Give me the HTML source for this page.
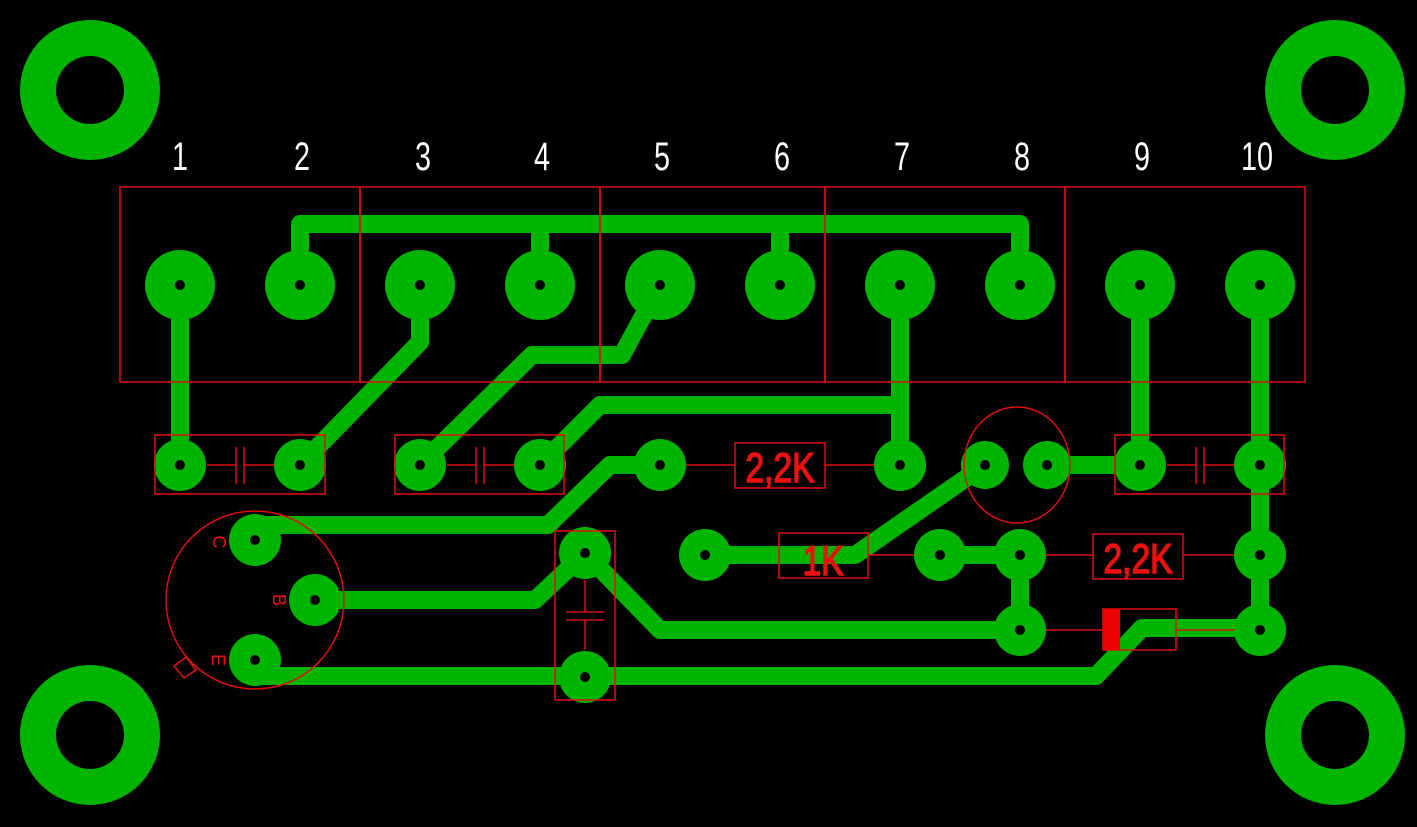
<!DOCTYPE html>
<html><head><meta charset="utf-8"><style>html,body{margin:0;padding:0;background:#000}svg{display:block}</style></head>
<body>
<svg width="1417" height="827" viewBox="0 0 1417 827" xmlns="http://www.w3.org/2000/svg">
<rect width="1417" height="827" fill="#000"/>
<g fill="#00b400">
<circle cx="90" cy="90" r="70"/><circle cx="1335" cy="90" r="70"/><circle cx="90" cy="735" r="70"/><circle cx="1335" cy="735" r="70"/>
</g>
<g fill="#000"><circle cx="90" cy="90" r="34"/><circle cx="1335" cy="90" r="34"/><circle cx="90" cy="735" r="34"/><circle cx="1335" cy="735" r="34"/></g>
<g fill="#fff" font-family="Liberation Sans, sans-serif" font-size="40" text-anchor="middle">
<text transform="translate(180 170) scale(0.72 1)">1</text><text transform="translate(302 170) scale(0.72 1)">2</text><text transform="translate(423 170) scale(0.72 1)">3</text><text transform="translate(542 170) scale(0.72 1)">4</text><text transform="translate(662 170) scale(0.72 1)">5</text><text transform="translate(782 170) scale(0.72 1)">6</text><text transform="translate(902 170) scale(0.72 1)">7</text><text transform="translate(1022 170) scale(0.72 1)">8</text><text transform="translate(1142 170) scale(0.72 1)">9</text><text transform="translate(1257 170) scale(0.72 1)">10</text>
</g>
<g fill="none" stroke="#00b400" stroke-width="18" stroke-linejoin="round">
<polyline points="300,285 300,224 1020,224 1020,285"/>
<line x1="540" y1="224" x2="540" y2="285"/><line x1="780" y1="224" x2="780" y2="285"/>
<line x1="180" y1="285" x2="180" y2="465"/>
<polyline points="420,285 420,342 300,465"/>
<polyline points="660,285 622,355 532,355 420,465"/>
<polyline points="900,285 900,465"/>
<polyline points="900,405 600,405 540,465"/>
<polyline points="660,465 610,465 548,525 255,525"/>
<polyline points="315,600 535,600 585,553"/>
<polyline points="255,660 255,676 1096,676 1142,628 1260,628"/>
<polyline points="585,553 660,630 1020,630"/>
<polyline points="705,555 855,555 985,465"/>
<line x1="1047" y1="465" x2="1140" y2="465"/>
<line x1="1140" y1="285" x2="1140" y2="465"/>
<line x1="1260" y1="285" x2="1260" y2="630"/>
<line x1="940" y1="555" x2="1020" y2="555"/>
<line x1="1020" y1="555" x2="1020" y2="630"/>
</g>
<g fill="#00b400">
<circle cx="180" cy="285" r="35"/><circle cx="300" cy="285" r="35"/><circle cx="420" cy="285" r="35"/><circle cx="540" cy="285" r="35"/><circle cx="660" cy="285" r="35"/><circle cx="780" cy="285" r="35"/><circle cx="900" cy="285" r="35"/><circle cx="1020" cy="285" r="35"/><circle cx="1140" cy="285" r="35"/><circle cx="1260" cy="285" r="35"/>
<circle cx="180" cy="465" r="26"/><circle cx="300" cy="465" r="26"/><circle cx="420" cy="465" r="26"/><circle cx="540" cy="465" r="26"/><circle cx="660" cy="465" r="26"/><circle cx="900" cy="465" r="26"/><circle cx="985" cy="465" r="24"/><circle cx="1047" cy="465" r="24"/><circle cx="1140" cy="465" r="26"/><circle cx="1260" cy="465" r="26"/>
<circle cx="255" cy="540" r="26"/><circle cx="315" cy="600" r="26"/><circle cx="255" cy="660" r="26"/>
<circle cx="585" cy="553" r="26"/><circle cx="585" cy="677" r="26"/>
<circle cx="705" cy="555" r="26"/><circle cx="940" cy="555" r="26"/><circle cx="1020" cy="555" r="26"/><circle cx="1260" cy="555" r="26"/>
<circle cx="1020" cy="630" r="26"/><circle cx="1260" cy="630" r="26"/>
</g>
<g fill="#000">
<circle cx="180" cy="285" r="5"/><circle cx="300" cy="285" r="5"/><circle cx="420" cy="285" r="5"/><circle cx="540" cy="285" r="5"/><circle cx="660" cy="285" r="5"/><circle cx="780" cy="285" r="5"/><circle cx="900" cy="285" r="5"/><circle cx="1020" cy="285" r="5"/><circle cx="1140" cy="285" r="5"/><circle cx="1260" cy="285" r="5"/>
<circle cx="180" cy="465" r="5"/><circle cx="300" cy="465" r="5"/><circle cx="420" cy="465" r="5"/><circle cx="540" cy="465" r="5"/><circle cx="660" cy="465" r="5"/><circle cx="900" cy="465" r="5"/><circle cx="985" cy="465" r="5"/><circle cx="1047" cy="465" r="5"/><circle cx="1140" cy="465" r="5"/><circle cx="1260" cy="465" r="5"/>
<circle cx="255" cy="540" r="5"/><circle cx="315" cy="600" r="5"/><circle cx="255" cy="660" r="5"/>
<circle cx="585" cy="553" r="5"/><circle cx="585" cy="677" r="5"/>
<circle cx="705" cy="555" r="5"/><circle cx="940" cy="555" r="5"/><circle cx="1020" cy="555" r="5"/><circle cx="1260" cy="555" r="5"/>
<circle cx="1020" cy="630" r="5"/><circle cx="1260" cy="630" r="5"/>
</g>
<g fill="none" stroke="#dd1010" stroke-width="1.5">
<rect x="120" y="187" width="240" height="195"/><rect x="360" y="187" width="240" height="195"/><rect x="600" y="187" width="225" height="195"/><rect x="825" y="187" width="240" height="195"/><rect x="1065" y="187" width="240" height="195"/>
<rect x="155" y="435" width="170" height="59"/><rect x="395" y="435" width="169" height="59"/><rect x="1115" y="435" width="169" height="59"/>
<line x1="207" y1="465" x2="236" y2="465"/><line x1="244" y1="465" x2="274" y2="465"/><line x1="236" y1="447" x2="236" y2="484"/><line x1="244" y1="447" x2="244" y2="484"/>
<line x1="447" y1="465" x2="476" y2="465"/><line x1="484" y1="465" x2="514" y2="465"/><line x1="476" y1="447" x2="476" y2="484"/><line x1="484" y1="447" x2="484" y2="484"/>
<line x1="1167" y1="465" x2="1196" y2="465"/><line x1="1204" y1="465" x2="1234" y2="465"/><line x1="1196" y1="447" x2="1196" y2="484"/><line x1="1204" y1="447" x2="1204" y2="484"/>
<rect x="735" y="443" width="90" height="45"/><line x1="686" y1="465" x2="735" y2="465"/><line x1="825" y1="465" x2="874" y2="465"/>
<rect x="779" y="533" width="89" height="45"/><line x1="868" y1="555" x2="914" y2="555"/>
<rect x="1093" y="534" width="90" height="45"/><line x1="1046" y1="555" x2="1093" y2="555"/><line x1="1183" y1="555" x2="1234" y2="555"/>
<rect x="1103" y="609" width="73" height="41"/><line x1="1046" y1="630" x2="1103" y2="630"/><line x1="1176" y1="630" x2="1234" y2="630"/>
<ellipse cx="1017" cy="465" rx="53" ry="58"/>
<circle cx="255" cy="600" r="89"/>
<path d="M186,657 L196,670 L184,678 L174,666 Z"/>
<rect x="555" y="531" width="60" height="169"/>
<line x1="585" y1="580" x2="585" y2="612"/><line x1="585" y1="620" x2="585" y2="650"/><line x1="566" y1="612" x2="604" y2="612"/><line x1="566" y1="620" x2="604" y2="620"/>
</g>
<rect x="1103" y="609" width="17" height="41" fill="#ee0000"/>
<g fill="#ee1111" stroke="#ee1111" stroke-width="1.5" font-family="Liberation Sans, sans-serif" text-anchor="middle">
<text font-size="42" transform="translate(780 482) scale(0.8 1)">2,2K</text>
<text font-size="42" transform="translate(823 575) scale(0.8 1)">1K</text>
<text font-size="42" transform="translate(1138 573) scale(0.8 1)">2,2K</text>
</g>
<g fill="#ee1111" font-family="Liberation Sans, sans-serif" text-anchor="middle">
<text font-size="18" transform="translate(213 542) rotate(90)">C</text>
<text font-size="18" transform="translate(273 600) rotate(90)">B</text>
<text font-size="18" transform="translate(212 660) rotate(90)">E</text>
</g>
</svg>
</body></html>
